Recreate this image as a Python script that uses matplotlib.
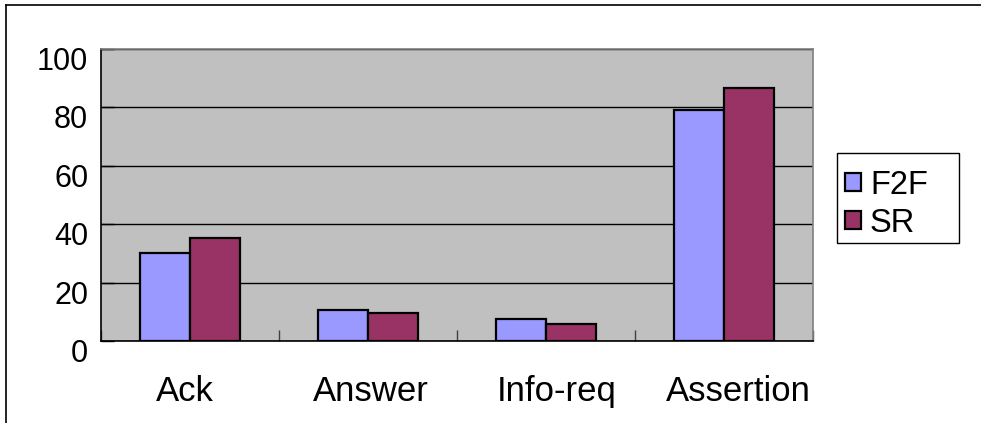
import matplotlib
matplotlib.use("Agg")
import matplotlib.pyplot as plt
import matplotlib.transforms as mtransforms
from matplotlib.lines import Line2D
from matplotlib.patches import Rectangle
import numpy as np

categories = ["Ack", "Answer", "Info-req", "Assertion"]
series_names = ["F2F", "SR"]
f2f_values = [30.0, 10.5, 7.4, 79.2]
sr_values = [35.3, 9.7, 5.9, 86.5]
y_ticks = [0, 20, 40, 60, 80, 100]

# small horizontal nudges (px) of the category labels, as rendered in the original
xlabel_nudge_px = [-4.7, 2.8, 11.3, 14.3]

plt.rcParams["font.family"] = ["Liberation Sans", "DejaVu Sans"]

W, H = 981, 423
fig = plt.figure(figsize=(W / 100, H / 100), dpi=100)
fig.patch.set_facecolor("white")

ax = fig.add_axes([100.7 / W, (H - 341) / H, 712 / W, 292 / H])
ax.set_facecolor("#C0C0C0")

x = np.arange(len(categories))
bw = 0.281
ax.bar(x - bw / 2, f2f_values, bw, color="#9999FF", edgecolor="black",
       linewidth=1.6, label=series_names[0], zorder=3)
ax.bar(x + bw / 2, sr_values, bw, color="#993366", edgecolor="black",
       linewidth=1.6, label=series_names[1], zorder=3)

ax.set_xlim(-0.5, len(categories) - 0.5)
ax.set_ylim(0, 100)
ax.set_yticks(y_ticks)
ax.set_yticklabels([str(v) for v in y_ticks])
ax.yaxis.grid(True, color="black", linewidth=1.0, zorder=1)
ax.set_axisbelow(True)

ax.set_xticks(x)
ax.set_xticklabels(categories)
ax.set_xticks(np.arange(-0.5, len(categories)), minor=True)
ax.tick_params(axis="x", which="major", length=0, pad=24.5, labelsize=25)
ax.tick_params(axis="x", which="minor", direction="in", length=8, width=1.0, color="#404040")
ax.tick_params(axis="y", direction="in", length=9, width=1.0, pad=9, labelsize=22)

for lbl in ax.get_yticklabels():
    lbl.set_transform(lbl.get_transform() + mtransforms.ScaledTranslation(0, -9.5 / 100, fig.dpi_scale_trans))
for lbl, dx in zip(ax.get_xticklabels(), xlabel_nudge_px):
    lbl.set_transform(lbl.get_transform() + mtransforms.ScaledTranslation(dx / 100, 0, fig.dpi_scale_trans))

ax.spines["top"].set_color("#808080")
ax.spines["right"].set_color("#808080")
ax.spines["left"].set_color("black")
ax.spines["bottom"].set_color("black")
for s in ax.spines.values():
    s.set_linewidth(1.2)

leg = fig.legend(loc="upper left",
                 bbox_to_anchor=(837.3 / W, (H - 162) / H),
                 borderaxespad=0, fontsize=23.5, frameon=False,
                 handlelength=0.49, handleheight=0.49,
                 handletextpad=0.28, labelspacing=0.215, borderpad=0.23)

# legend frame box
fig.add_artist(Rectangle((837.3 / W, (H - 243.3) / H), 122 / W, 90 / H,
                         transform=fig.transFigure, fill=False,
                         edgecolor="black", linewidth=1.0))

# outer frame (partially cropped)
fig.add_artist(Line2D([6 / W, 6 / W], [0, 1 - 5 / H], color="black", linewidth=1.2,
                      transform=fig.transFigure))
fig.add_artist(Line2D([6 / W, 1], [1 - 5 / H, 1 - 5 / H], color="black", linewidth=1.2,
                      transform=fig.transFigure))

fig.savefig("out.png", dpi=100)
